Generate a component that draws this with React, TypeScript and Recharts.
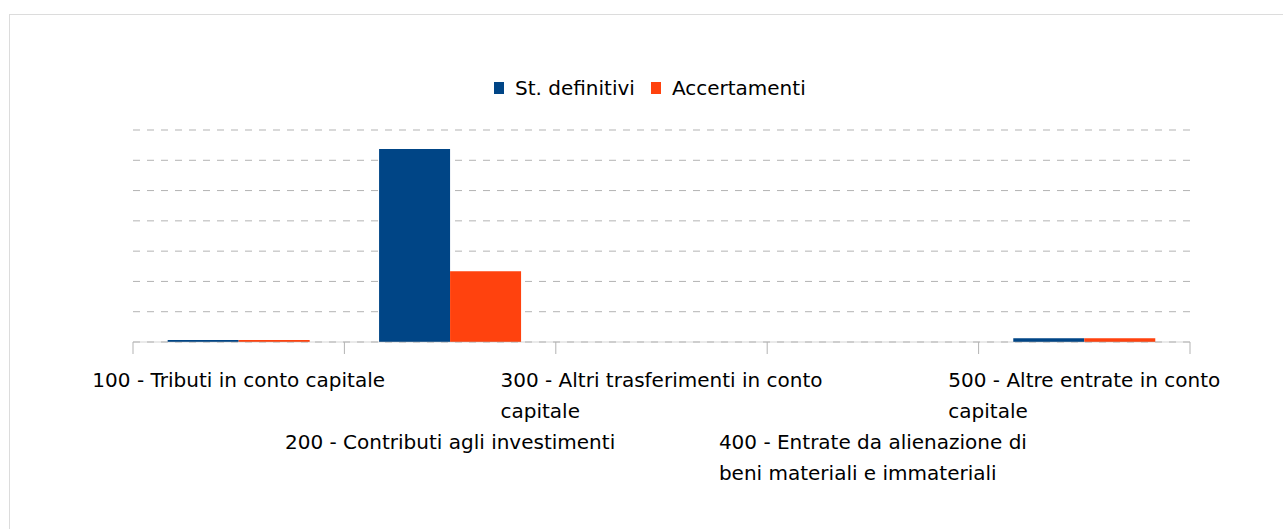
import React from 'react';
import { BarChart, Bar, XAxis, YAxis, CartesianGrid, Legend } from 'recharts';

const categories = [
  '100 - Tributi in conto capitale',
  '200 - Contributi agli investimenti',
  '300 - Altri trasferimenti in conto capitale',
  '400 - Entrate da alienazione di beni materiali e immateriali',
  '500 - Altre entrate in conto capitale',
];
const stDefinitivi = [0.07, 6.37, 0, 0, 0.12];
const accertamenti = [0.07, 2.34, 0, 0, 0.12];
const yTicks = [0, 1, 2, 3, 4, 5, 6, 7];
const seriesNames = ['St. definitivi', 'Accertamenti'];

const data = categories.map((c, i) => ({
  category: c,
  stDef: stDefinitivi[i],
  acc: accertamenti[i],
}));

const FONT = '"DejaVu Sans", Verdana, sans-serif';
const FONT_SIZE = 20;

let ctx: CanvasRenderingContext2D | null = null;
function measure(s: string): number {
  if (!ctx) {
    const c = document.createElement('canvas');
    ctx = c.getContext('2d');
  }
  if (!ctx) return s.length * FONT_SIZE * 0.55;
  ctx.font = `${FONT_SIZE}px ${FONT}`;
  return ctx.measureText(s).width;
}

function wrapText(s: string, maxW: number): string[] {
  const words = s.split(' ');
  const lines: string[] = [];
  let cur = '';
  for (const w of words) {
    const test = cur ? cur + ' ' + w : w;
    if (cur && measure(test) > maxW) {
      lines.push(cur);
      cur = w;
    } else {
      cur = test;
    }
  }
  if (cur) lines.push(cur);
  return lines;
}

function CategoryTick(props: any) {
  const { x, y, payload, index } = props;
  const half = payload && typeof payload.offset === 'number' ? payload.offset : 0;
  const lines = wrapText(String(payload.value), 344);
  const widest = Math.max(...lines.map(measure));
  const startX = x - widest / 2;
  const firstBaseline = y + (index % 2 === 0 ? 44.5 : 107);
  const isLast = index === categories.length - 1;
  return (
    <g>
      <line x1={x - half} x2={x - half} y1={y} y2={y + 12} stroke="#b3b3b3" strokeWidth={1} />
      {isLast && (
        <line x1={x + half} x2={x + half} y1={y} y2={y + 12} stroke="#b3b3b3" strokeWidth={1} />
      )}
      <text x={startX} y={firstBaseline} textAnchor="start" fontFamily={FONT} fontSize={FONT_SIZE} fill="#000">
        {lines.map((l, i) => (
          <tspan key={i} x={startX} y={firstBaseline + i * 31}>
            {l}
          </tspan>
        ))}
      </text>
    </g>
  );
}

function LegendContent(props: any) {
  const payload = [...(props.payload || [])].sort(
    (a: any, b: any) => seriesNames.indexOf(a.value) - seriesNames.indexOf(b.value)
  );
  return (
    <div style={{ display: 'flex', alignItems: 'center', fontFamily: FONT, fontSize: FONT_SIZE, color: '#000', whiteSpace: 'nowrap' }}>
      {payload.map((p: any, i: number) => (
        <div key={i} style={{ display: 'flex', alignItems: 'center', marginRight: i === 0 ? 16 : 0 }}>
          <span style={{ display: 'inline-block', width: 10, height: 12, background: p.color, marginRight: 11 }} />
          <span style={{ lineHeight: '24px' }}>{p.value}</span>
        </div>
      ))}
    </div>
  );
}

export default function App() {
  return (
    <div style={{ position: 'absolute', left: 0, top: 0, width: 1283, height: 529, overflow: 'hidden', background: '#fff' }}>
      <div style={{ position: 'absolute', left: 9, top: 14, width: 1400, height: 700, border: '1px solid #dcdcdc' }} />
      <div style={{ position: 'absolute', left: 0, top: 0 }}>
        <BarChart
          width={1283}
          height={529}
          data={data}
          margin={{ top: 130, right: 93, left: 133, bottom: 0 }}
          barCategoryGap="16.4%"
          barGap={0}
        >
          <CartesianGrid vertical={false} stroke="#b3b3b3" strokeDasharray="7 7" />
          <YAxis hide domain={[0, 7]} ticks={yTicks} />
          <XAxis
            dataKey="category"
            interval={0}
            tickLine={false}
            tickSize={0}
            tickMargin={0}
            height={187}
            axisLine={{ stroke: '#b3b3b3', strokeOpacity: 0.55 }}
            tick={<CategoryTick />}
          />
          <Legend
            layout="horizontal"
            verticalAlign="middle"
            align="center"
            wrapperStyle={{ position: 'absolute', top: 76, left: 494, width: 'auto' }}
            content={<LegendContent />}
          />
          <Bar dataKey="stDef" name={seriesNames[0]} fill="#004586" isAnimationActive={false} />
          <Bar dataKey="acc" name={seriesNames[1]} fill="#ff420e" isAnimationActive={false} />
        </BarChart>
      </div>
    </div>
  );
}
